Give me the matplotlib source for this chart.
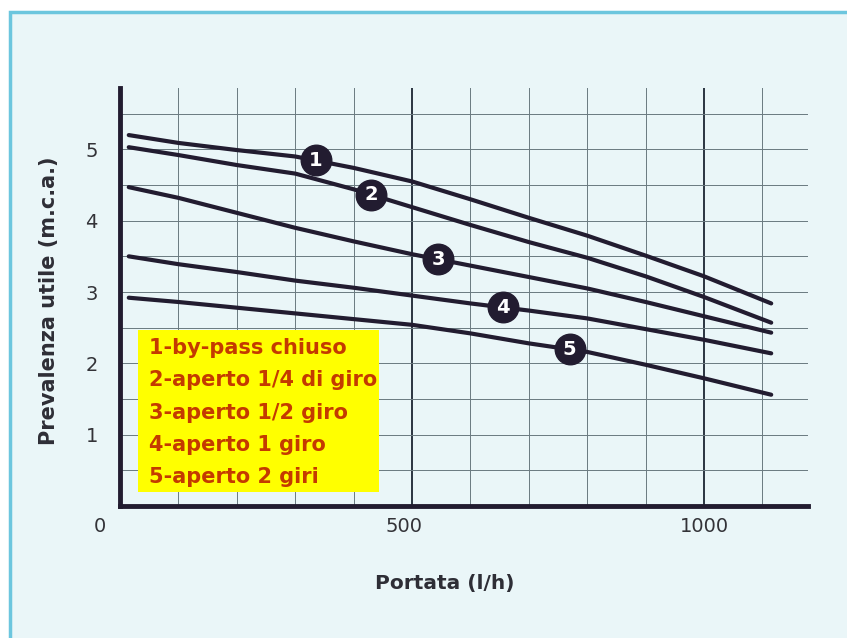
import numpy as np
import matplotlib.pyplot as plt
from matplotlib.patches import Rectangle
from matplotlib.transforms import ScaledTranslation

# Data
portata = [15, 100, 200, 300, 400, 500, 600, 700, 800, 900, 1000, 1115]
curva_1 = [5.20, 5.09, 4.99, 4.90, 4.74, 4.55, 4.30, 4.04, 3.79, 3.51, 3.22, 2.84]
curva_2 = [5.03, 4.92, 4.78, 4.66, 4.44, 4.19, 3.94, 3.70, 3.48, 3.22, 2.93, 2.57]
curva_3 = [4.47, 4.32, 4.11, 3.90, 3.71, 3.53, 3.37, 3.21, 3.05, 2.86, 2.66, 2.43]
curva_4 = [3.50, 3.39, 3.28, 3.16, 3.06, 2.95, 2.84, 2.74, 2.63, 2.48, 2.33, 2.14]
curva_5 = [2.92, 2.86, 2.78, 2.70, 2.62, 2.54, 2.42, 2.28, 2.16, 1.98, 1.79, 1.56]
curve = [curva_1, curva_2, curva_3, curva_4, curva_5]
etichette_x = [335, 430, 545, 655, 770]
legenda = ["1-by-pass chiuso", "2-aperto 1/4 di giro", "3-aperto 1/2 giro",
           "4-aperto 1 giro", "5-aperto 2 giri"]

ink = '#221c30'
bg = '#eaf6f8'

fig = plt.figure(figsize=(8.47, 6.38), dpi=100)
fig.patch.set_facecolor('white')
# light blue framed panel
fig.patches.append(Rectangle((10 / 847, -0.05), 1.1, (638 - 12) / 638 + 0.05,
                             transform=fig.transFigure, facecolor=bg,
                             edgecolor='#6cc6de', linewidth=2.5, zorder=-10))

ax = fig.add_axes([120 / 847, 1 - 506 / 638, 688 / 847, (506 - 88) / 638])
ax.set_facecolor('none')
ax.set_xlim(0, 1178)
ax.set_ylim(0, 5.86)

# grid
for gx in range(100, 1200, 100):
    major = gx % 500 == 0
    ax.axvline(gx, color='#2a3440' if major else '#6a7a80',
               lw=1.4 if major else 0.7, zorder=1)
for gy in np.arange(0.5, 5.6, 0.5):
    ax.axhline(gy, color='#6a7a80', lw=0.7, zorder=1)

# curves
for y in curve:
    ax.plot(portata, y, color=ink, lw=3.0, solid_capstyle='round', zorder=3)

# circled numbers on the curves
for i, (lx, y) in enumerate(zip(etichette_x, curve)):
    ly = np.interp(lx, portata, y)
    ax.plot(lx, ly, 'o', ms=22, color=ink, zorder=4)
    ax.text(lx, ly, str(i + 1), color='white', fontsize=14, fontweight='bold',
            ha='center', va='center', zorder=5)

# spines
for s in ['top', 'right']:
    ax.spines[s].set_visible(False)
for s in ['left', 'bottom']:
    ax.spines[s].set_linewidth(3.5)
    ax.spines[s].set_color(ink)

ax.set_xticks([0, 500, 1000])
ax.set_xticklabels(['0', '500', '1000'])
ax.set_yticks([1, 2, 3, 4, 5])
ax.tick_params(length=0, labelsize=14, labelcolor='#333338')
ax.tick_params(axis='x', pad=8)
ax.tick_params(axis='y', pad=16)
for lab, dx in zip(ax.get_xticklabels(), [-20, -8, 0]):
    lab.set_transform(lab.get_transform() + ScaledTranslation(dx / 100, 0, fig.dpi_scale_trans))

ax.set_xlabel('Portata (l/h)', fontsize=14.5, fontweight='bold', color='#2e2e36')
ax.xaxis.set_label_coords(0.472, -0.163)
ax.set_ylabel('Prevalenza utile (m.c.a.)', fontsize=15, fontweight='bold',
              color='#2e2e36')
ax.yaxis.set_label_coords(-0.088, 0.49)

# yellow legend box
ax.add_patch(Rectangle((30, 0.2), 413, 2.27, facecolor='#ffff00', edgecolor='none', zorder=2))
for i, t in enumerate(legenda):
    ax.text(50, 2.22 - i * 0.455, t, color='#c43a00', fontsize=15, fontweight='bold',
            va='center', ha='left', zorder=3)

fig.savefig('out.png', dpi=100, facecolor=fig.get_facecolor())
